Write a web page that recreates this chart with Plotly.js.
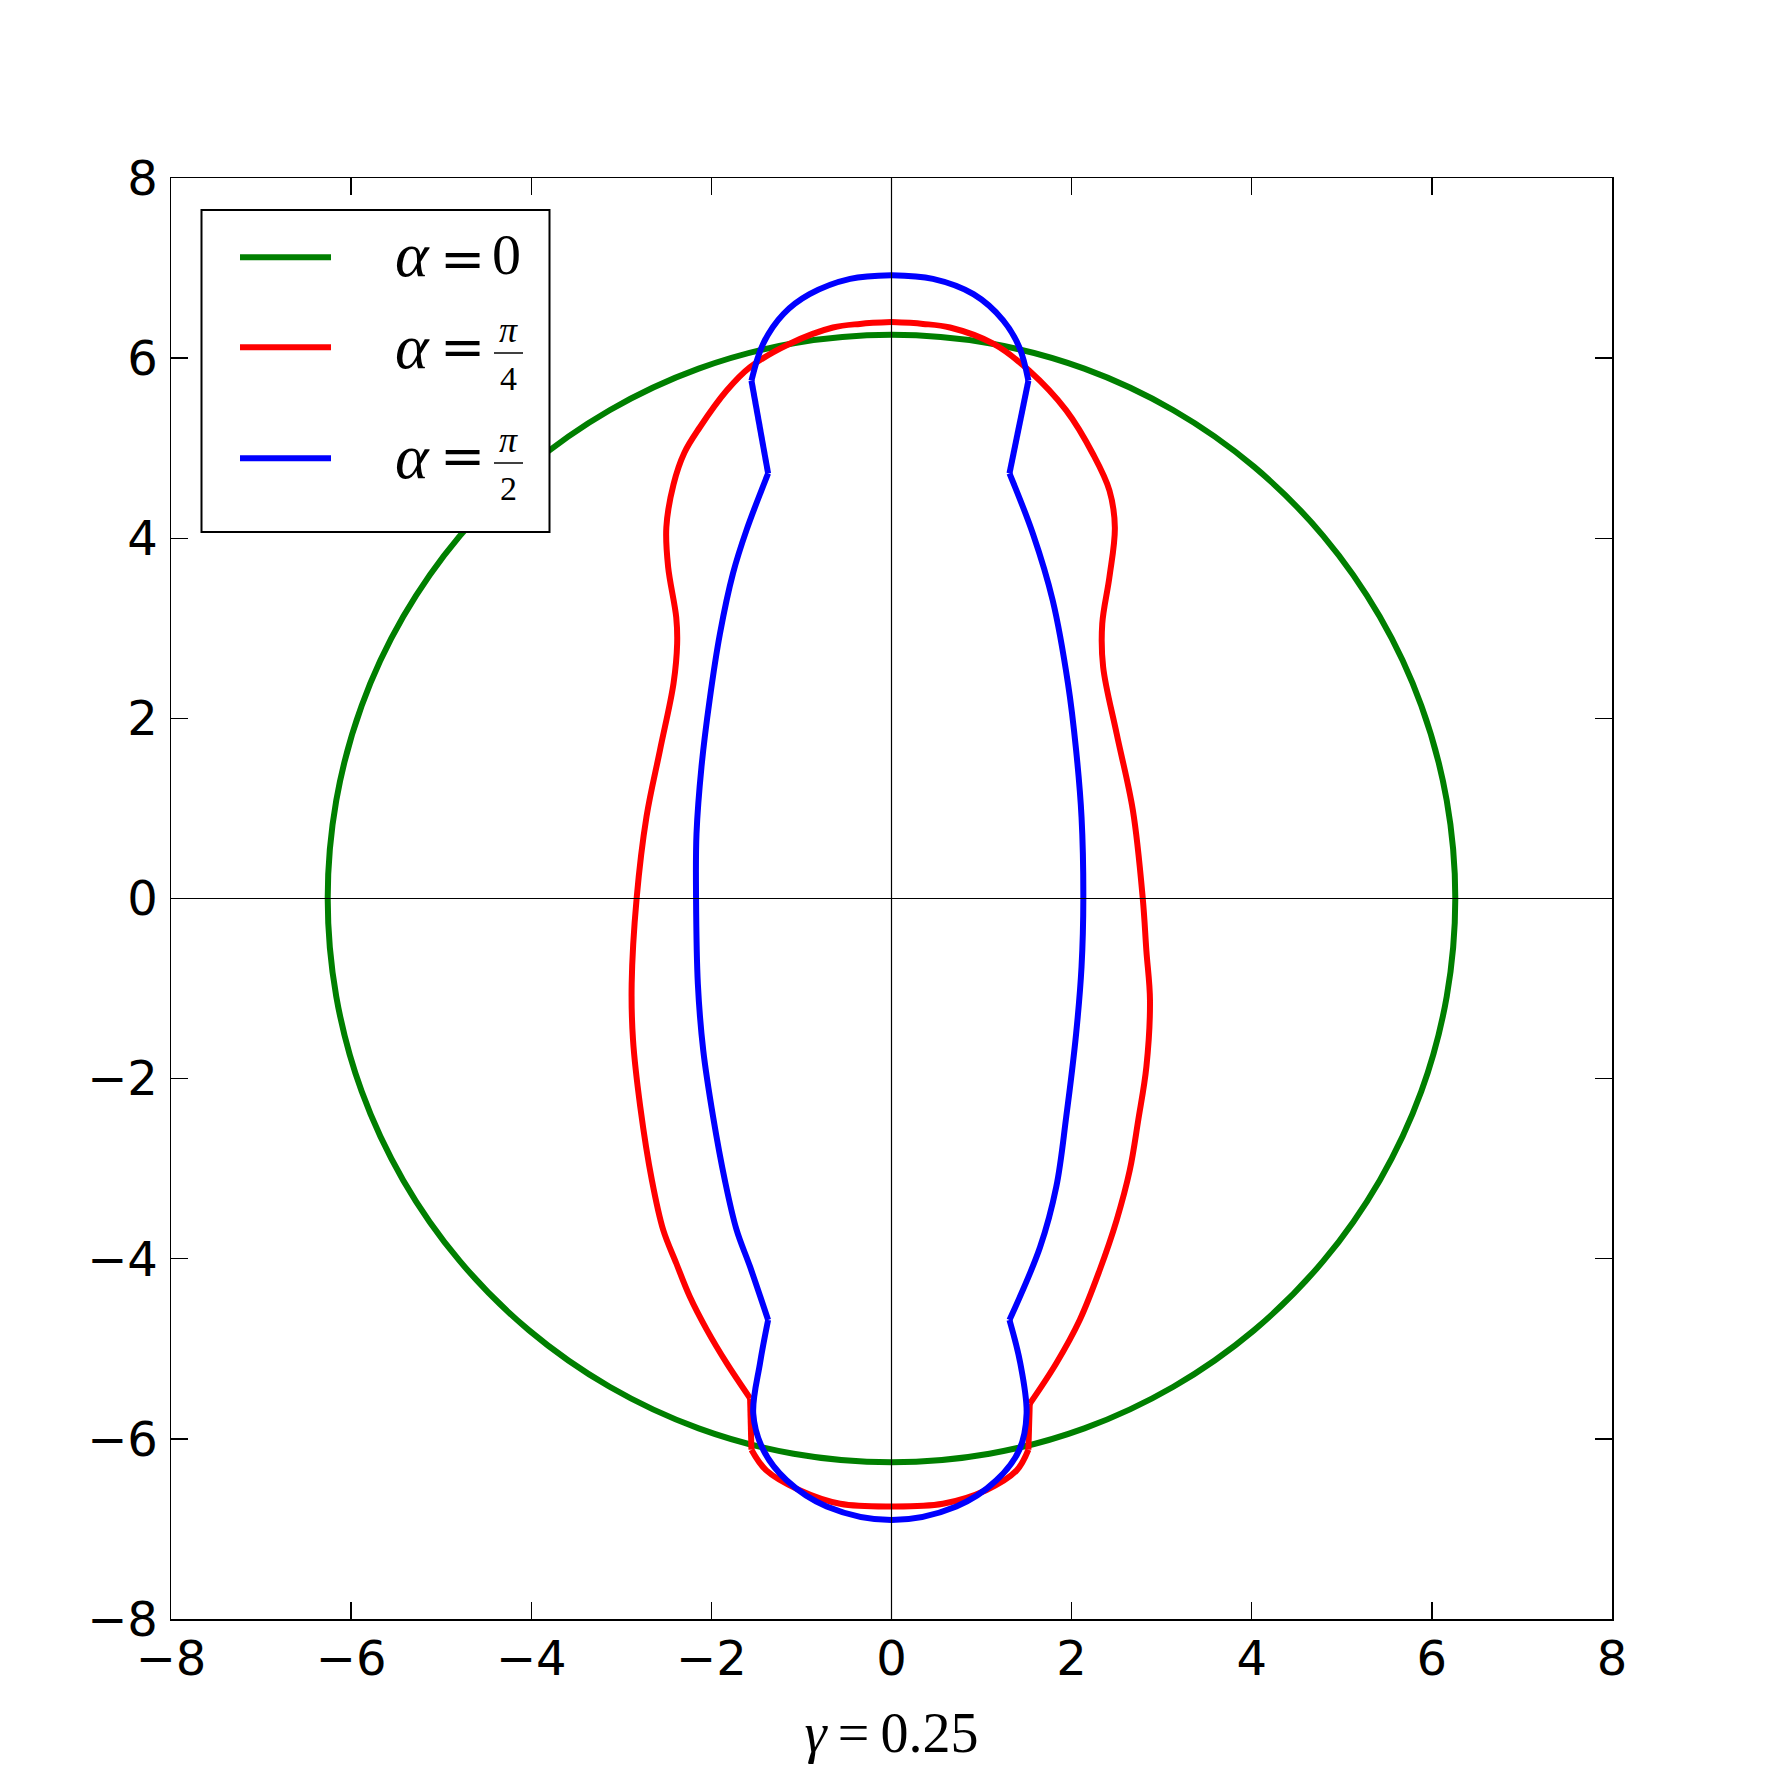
<!DOCTYPE html>
<html>
<head>
<meta charset="utf-8">
<script src="https://cdn.plot.ly/plotly-3.0.1.min.js"></script>
<style>html,body{margin:0;padding:0;background:#fff;}#chart{width:1790px;height:1790px;}</style>
</head>
<body>
<div id="chart"></div>
<script>
// ---- data ----
const seriesNames = ["α = 0", "α = π/4", "α = π/2"];
const seriesColors = ["#007f00", "#ff0000", "#0000ff"];

const greenX = [6.26, 6.165, 5.883, 5.421, 4.795, 4.024, 3.13, 2.141, 1.087, 0, -1.087, -2.141, -3.13, -4.024, -4.795, -5.421, -5.883, -6.165, -6.26, -6.165, -5.883, -5.421, -4.795, -4.024, -3.13, -2.141, -1.087, 0, 1.087, 2.141, 3.13, 4.024, 4.795, 5.421, 5.883, 6.165, 6.26];
const greenY = [0, 1.087, 2.141, 3.13, 4.024, 4.795, 5.421, 5.883, 6.165, 6.26, 6.165, 5.883, 5.421, 4.795, 4.024, 3.13, 2.141, 1.087, 0, -1.087, -2.141, -3.13, -4.024, -4.795, -5.421, -5.883, -6.165, -6.26, -6.165, -5.883, -5.421, -4.795, -4.024, -3.13, -2.141, -1.087, 0];

const redX = [0, -0.35, -0.65, -1.13, -1.57, -1.83, -2.13, -2.30, -2.42, -2.50, -2.48, -2.39, -2.38, -2.42, -2.57, -2.72, -2.83, -2.885, -2.87, -2.79, -2.66, -2.535, -2.39, -2.24, -2.05, -1.83, -1.57, -1.555, -1.39, -1.02, -0.57, 0, 0.57, 1.05, 1.39, 1.52, 1.535, 1.83, 2.09, 2.31, 2.50, 2.645, 2.74, 2.83, 2.87, 2.83, 2.79, 2.68, 2.50, 2.35, 2.34, 2.42, 2.48, 2.42, 2.24, 1.94, 1.53, 1.13, 0.65, 0.35, 0];
const redY = [6.40, 6.38, 6.34, 6.16, 5.90, 5.64, 5.23, 4.95, 4.60, 4.12, 3.68, 3.12, 2.83, 2.39, 1.65, 0.91, 0, -0.95, -1.57, -2.31, -3.13, -3.68, -4.05, -4.42, -4.79, -5.16, -5.55, -6.12, -6.35, -6.57, -6.72, -6.75, -6.72, -6.57, -6.35, -6.12, -5.61, -5.16, -4.68, -4.13, -3.57, -3.02, -2.46, -1.87, -1.13, -0.58, 0, 0.98, 1.83, 2.57, 3.05, 3.57, 4.12, 4.53, 4.93, 5.42, 5.86, 6.16, 6.34, 6.38, 6.40];
// indices of the sharp corners in the red outline
const redCorners = [26, 27, 35, 36];

const blueX = [0, -0.46, -0.91, -1.20, -1.425, -1.555, -1.37, -1.61, -1.76, -1.905, -2.02, -2.11, -2.165, -2.17, -2.15, -2.09, -1.98, -1.85, -1.72, -1.57, -1.37, -1.46, -1.535, -1.425, -1.165, -0.72, 0, 0.72, 1.165, 1.42, 1.50, 1.43, 1.31, 1.65, 1.83, 1.94, 2.05, 2.11, 2.13, 2.11, 2.05, 1.96, 1.79, 1.57, 1.31, 1.52, 1.42, 1.24, 0.91, 0.46, 0];
const blueY = [6.92, 6.88, 6.71, 6.49, 6.16, 5.75, 4.72, 4.09, 3.61, 2.94, 2.20, 1.46, 0.72, 0, -0.95, -1.69, -2.43, -3.13, -3.68, -4.09, -4.68, -5.16, -5.72, -6.12, -6.46, -6.75, -6.90, -6.75, -6.46, -6.12, -5.72, -5.16, -4.68, -3.87, -3.20, -2.425, -1.50, -0.76, 0, 0.905, 1.645, 2.385, 3.31, 4.05, 4.72, 5.75, 6.12, 6.42, 6.71, 6.88, 6.92];
// indices of the sharp corners in the blue outline
const blueCorners = [5, 6, 20, 32, 44, 45];

const tickValues = [-8, -6, -4, -2, 0, 2, 4, 6, 8];
const xTitle = "<i>γ</i>\u2009=\u20090.25";
// legend label pieces
const legendLhs = "α";
const legendRhs = ["0", null, null];
const legendFrac = [null, ["π", "4"], ["π", "2"]];

// ---- layout helpers (pixel -> paper) ----
const L = 171, T = 178, PW = 1441, PH = 1441;
const px = v => (v - L) / PW;
const py = v => (T + PH - v) / PH;
const LW = 6;

const traces = [
  {x: greenX, y: greenY, mode: "lines", name: seriesNames[0], legendgroup: "g0", line: {color: seriesColors[0], width: LW, shape: "spline", smoothing: 1}}
];
function addSegmented(xs, ys, corners, idx) {
  const cuts = [0].concat(corners, [xs.length - 1]);
  for (let k = 0; k < cuts.length - 1; k++) {
    const a = cuts[k], b = cuts[k + 1];
    traces.push({x: xs.slice(a, b + 1), y: ys.slice(a, b + 1), mode: "lines", name: seriesNames[idx], legendgroup: "g" + idx,
      line: {color: seriesColors[idx], width: LW, shape: (b - a) > 1 ? "spline" : "linear", smoothing: 1}});
  }
}
addSegmented(redX, redY, redCorners, 1);
addSegmented(blueX, blueY, blueCorners, 2);

const shapes = [
  {type: "line", xref: "x", yref: "paper", x0: 0, x1: 0, y0: 0, y1: 1, line: {color: "#000", width: 1.2}, layer: "above"},
  {type: "line", xref: "paper", yref: "y", x0: 0, x1: 1, y0: 0, y1: 0, line: {color: "#000", width: 1.2}, layer: "above"},
  {type: "rect", xref: "paper", yref: "paper", x0: px(201.5), x1: px(549.5), y0: py(532), y1: py(210), line: {color: "#000", width: 2}, fillcolor: "#fff", layer: "above"}
];
const annotations = [];
const rowLineY = [257.3, 347.3, 458.3];
const alphaY = [255, 346, 456];
const eqY = [259, 347, 456];
const rhsY = [255, null, null];
const fracNumY = [null, 330, 440];
const fracBarY = [null, 353, 463];
const fracDenY = [null, 378, 489];
const mathFont = "Liberation Serif";
function ann(x, y, text, family, size) {
  annotations.push({xref: "paper", yref: "paper", x: px(x), y: py(y), text: text, showarrow: false, xanchor: "center", yanchor: "middle", font: {family: family, size: size, color: "#000"}});
}
for (let i = 0; i < 3; i++) {
  shapes.push({type: "line", xref: "paper", yref: "paper", x0: px(240), x1: px(331), y0: py(rowLineY[i]), y1: py(rowLineY[i]), line: {color: seriesColors[i], width: LW}, layer: "above"});
  ann(412, alphaY[i], "<i>" + legendLhs + "</i>", mathFont, 64);
  ann(462, eqY[i], "=", "DejaVu Serif", 54);
  if (legendRhs[i] !== null) {
    ann(506, rhsY[i], legendRhs[i], mathFont, 58);
  } else {
    const f = legendFrac[i];
    ann(508, fracNumY[i], "<i>" + f[0] + "</i>", mathFont, 36);
    shapes.push({type: "line", xref: "paper", yref: "paper", x0: px(494), x1: px(523), y0: py(fracBarY[i]), y1: py(fracBarY[i]), line: {color: "#000", width: 1.5}, layer: "above"});
    ann(508, fracDenY[i], f[1], mathFont, 34);
  }
}

const axisCommon = {
  range: [-8, 8], tickmode: "array", tickvals: tickValues, ticktext: tickValues.map(v => v < 0 ? "\u2212" + Math.abs(v) : String(v)),
  showgrid: false, zeroline: false, showline: true, linecolor: "#000", linewidth: 1.5, mirror: "allticks",
  ticks: "inside", ticklen: 17, tickwidth: 1.3, tickcolor: "#000",
  tickfont: {family: "DejaVu Sans", size: 48, color: "#000"}, fixedrange: true
};

const layout = {
  width: 1790, height: 1790,
  margin: {l: L, r: 1790 - L - PW, t: T, b: 1790 - T - PH, pad: 0},
  paper_bgcolor: "#fff", plot_bgcolor: "#fff",
  showlegend: false,
  xaxis: Object.assign({}, axisCommon, {ticklabelstandoff: -3, title: {text: xTitle, font: {family: mathFont, size: 56, color: "#000"}, standoff: 27}}),
  yaxis: Object.assign({}, axisCommon, {ticklabelstandoff: 2}),
  shapes: shapes,
  annotations: annotations
};

Plotly.newPlot("chart", traces, layout, {staticPlot: true});
</script>
</body>
</html>
